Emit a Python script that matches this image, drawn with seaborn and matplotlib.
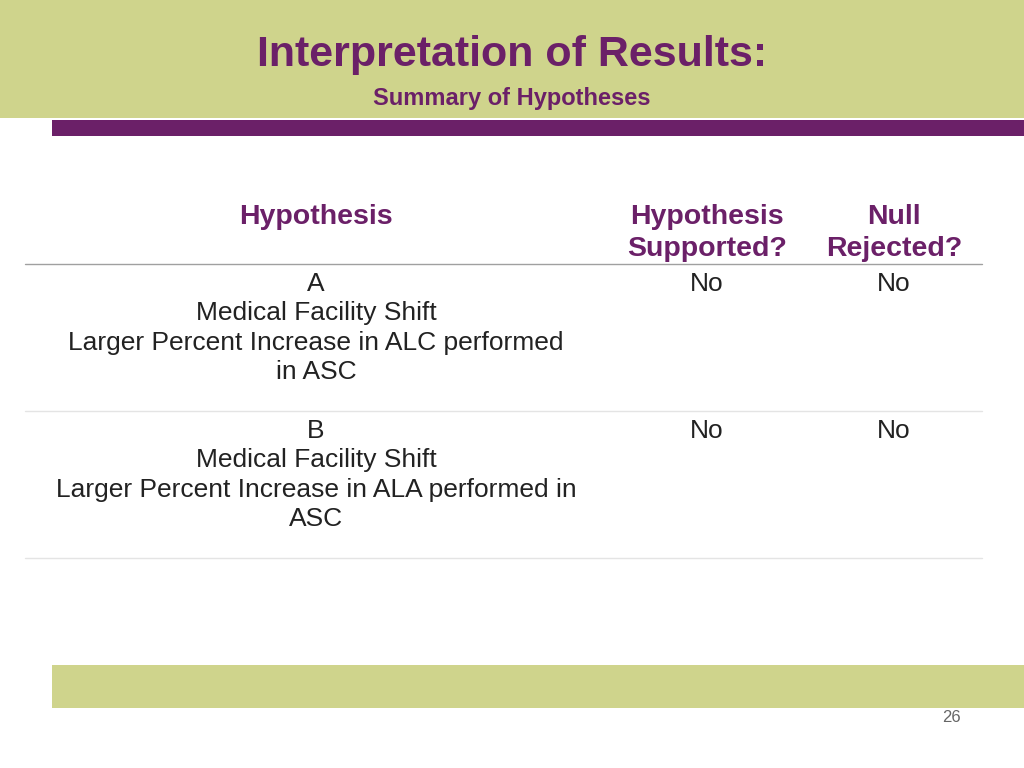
import matplotlib.pyplot as plt
import seaborn as sns
from matplotlib.patches import Rectangle

sns.set_theme(style="white")
plt.rcParams['font.family'] = 'Liberation Sans'

title = "Interpretation of Results:"
subtitle = "Summary of Hypotheses"
col_headers = ["Hypothesis", "Hypothesis\nSupported?", "Null\nRejected?"]
hypotheses = [
    "A\nMedical Facility Shift\nLarger Percent Increase in ALC performed\nin ASC",
    "B\nMedical Facility Shift\nLarger Percent Increase in ALA performed in\nASC",
]
supported = ["No", "No"]
rejected = ["No", "No"]
page_no = "26"

olive = "#CFD48C"
purple = "#6B2068"

fig = plt.figure(figsize=(10.24, 7.68), dpi=100)
ax = fig.add_axes([0, 0, 1, 1])
ax.set_xlim(0, 1024)
ax.set_ylim(768, 0)
ax.axis("off")

ax.add_patch(Rectangle((0, 0), 1024, 118, color=olive, lw=0))
ax.add_patch(Rectangle((52, 120), 972, 16, color=purple, lw=0))
ax.add_patch(Rectangle((52, 665), 972, 43, color=olive, lw=0))

ax.text(512, 55, title, ha="center", va="center", fontsize=31, fontweight="bold", color=purple)
ax.text(512, 98, subtitle, ha="center", va="center", fontsize=17, fontweight="bold", color=purple)

xs = [316, 707, 894]
for x, h in zip(xs, col_headers):
    ax.text(x, 204, h, ha="center", va="top", fontsize=20.5, fontweight="bold",
            color=purple, linespacing=1.3, transform=ax.transData)
# header text va top anchored at baseline approx; adjust
ax.plot([25, 982], [264, 264], color="#A0A0A0", lw=1)

row_tops = [272, 419]
for top, h, s, r in zip(row_tops, hypotheses, supported, rejected):
    ax.text(xs[0], top, h, ha="center", va="top", fontsize=19, color="#222222", linespacing=1.28)
    ax.text(xs[1], top, s, ha="center", va="top", fontsize=19, color="#222222")
    ax.text(xs[2], top, r, ha="center", va="top", fontsize=19, color="#222222")
    ax.plot([25, 982], [top + 139, top + 139], color="#E4E4E4", lw=1)

ax.text(951, 717, page_no, ha="center", va="center", fontsize=12, color="#666666")

fig.savefig("out.png", dpi=100)
